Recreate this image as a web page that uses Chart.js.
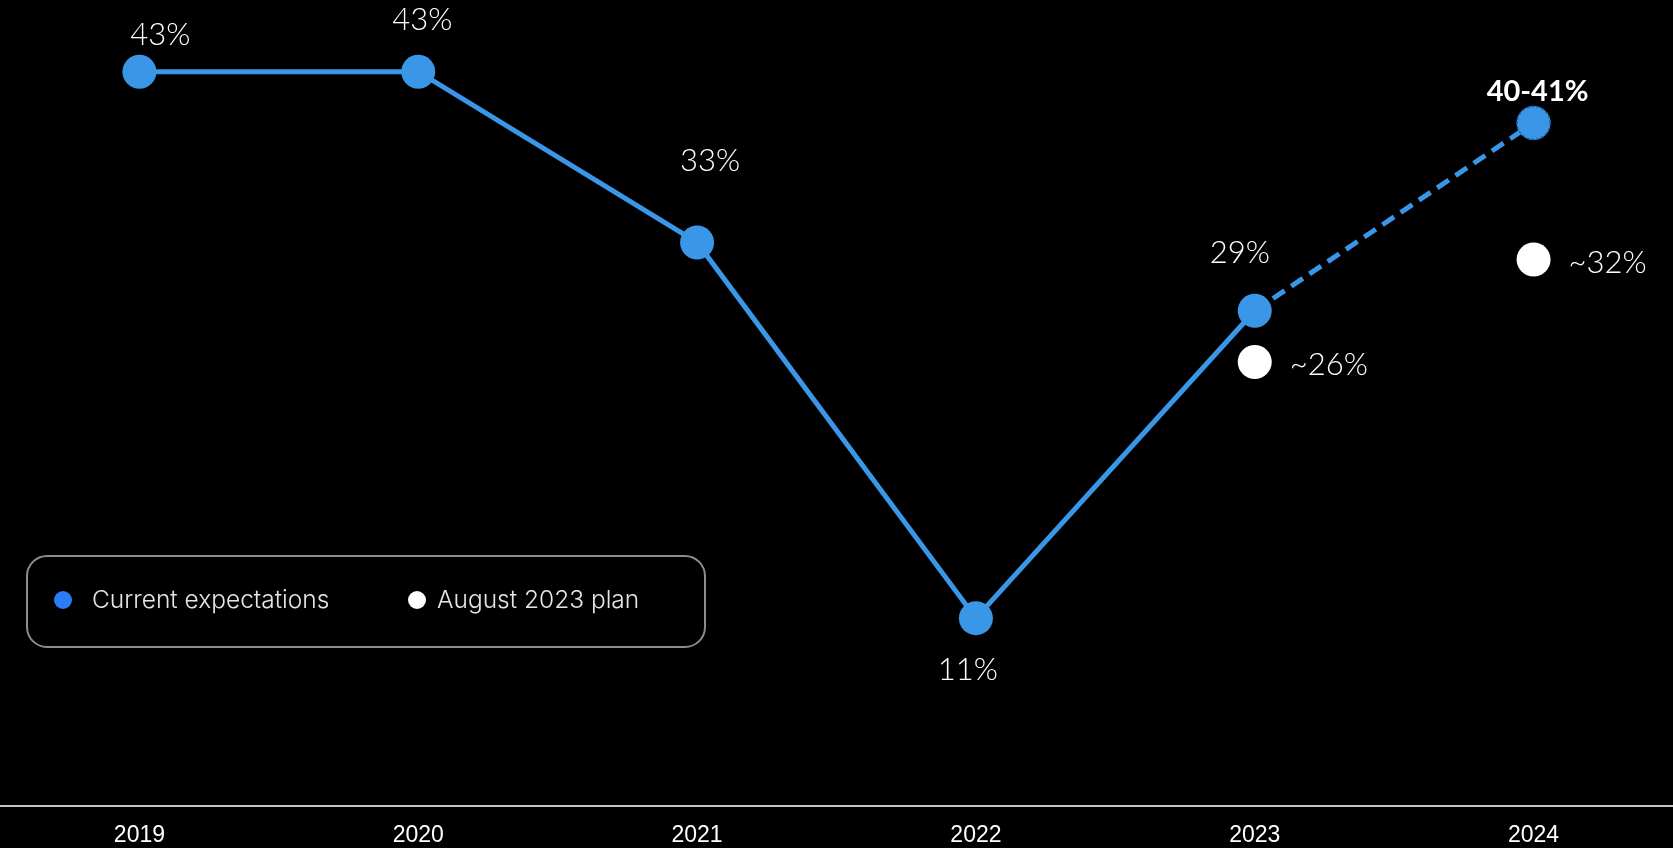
<!DOCTYPE html>
<html lang="en">
<head>
<meta charset="utf-8">
<title>Gross margin</title>
<script src="https://cdn.jsdelivr.net/npm/chart.js@4.4.1/dist/chart.umd.min.js"></script>
<style>
    html, body { margin: 0; padding: 0; background: #000; }
    #wrap { position: relative; width: 1673px; height: 848px; }
</style>
</head>
<body>
<div id="wrap"><canvas id="margemChart"></canvas></div>
<script>
// ==================== DADOS ====================

const anos = ['2019', '2020', '2021', '2022', '2023', '2024'];

// realized + current expectation (solid part)
const atual = [43, 43, 33, 11, 29, null];
// forecast range for 2024
const previsaoMin = 40;
const previsaoMax = 41;
// August 2023 plan
const plano = [null, null, null, null, 26, 32];

// label offsets relative to each point (px)
const rotuloDx = [21, 4, 13, -8, -15, 4];
const rotuloDy = [-27, -42, -71, 62, -48, -22];

const AZUL = '#3a97e8';
const AZUL_LEGENDA = '#2a7bf6';
const FONTE = 'Lato, "Open Sans", sans-serif';
const FONTE_LEGENDA = 'Inter, "Noto Sans", sans-serif';

// dashed segment 2023 -> 2024
const previsao = anos.map((a, i) => {
    if (i === 4) return atual[4];
    if (i === 5) return previsaoMin;
    return null;
});

// ==================== PLUGIN DE DESENHO ====================

const desenhoExtra = {
    id: 'desenhoExtra',
    afterDatasetsDraw(chart) {
        const ctx = chart.ctx;
        const area = chart.chartArea;
        const xs = chart.scales.x;

        // eixo inferior
        ctx.save();
        ctx.strokeStyle = '#c4c4c4';
        ctx.lineWidth = 2;
        ctx.beginPath();
        ctx.moveTo(0, area.bottom);
        ctx.lineTo(chart.width, area.bottom);
        ctx.stroke();

        // anos
        ctx.fillStyle = '#ffffff';
        ctx.font = '23px "Liberation Sans", Arial, sans-serif';
        ctx.textAlign = 'center';
        ctx.textBaseline = 'middle';
        anos.forEach((ano, i) => {
            ctx.fillText(ano, xs.getPixelForValue(i), area.bottom + 30);
        });

        // borda tracejada do ponto 2024
        const pt2024 = chart.getDatasetMeta(1).data[5];
        ctx.strokeStyle = '#1f5f99';
        ctx.lineWidth = 1.5;
        ctx.setLineDash([3, 2]);
        ctx.beginPath();
        ctx.arc(pt2024.x, pt2024.y, 16.5, 0, Math.PI * 2);
        ctx.stroke();
        ctx.setLineDash([]);

        // rotulos da linha azul
        ctx.textBaseline = 'alphabetic';
        const pontosAtual = chart.getDatasetMeta(0).data;
        atual.forEach((v, i) => {
            if (v === null) return;
            const p = pontosAtual[i];
            ctx.font = '300 31px ' + FONTE;
            ctx.fillText(v + '%', p.x + rotuloDx[i], p.y + rotuloDy[i]);
        });
        ctx.font = '700 29px ' + FONTE;
        ctx.fillText(previsaoMin + '-' + previsaoMax + '%', pt2024.x + rotuloDx[5], pt2024.y + rotuloDy[5]);

        // rotulos do plano
        const pontosPlano = chart.getDatasetMeta(2).data;
        ctx.textAlign = 'left';
        ctx.font = '300 31px ' + FONTE;
        plano.forEach((v, i) => {
            if (v === null) return;
            const p = pontosPlano[i];
            ctx.fillText('~' + v + '%', p.x + 35, p.y + 13);
        });
        ctx.restore();
    },
    afterDraw(chart) {
        // legenda dentro de uma caixa arredondada
        const ctx = chart.ctx;
        ctx.save();
        ctx.strokeStyle = '#8c8c8c';
        ctx.lineWidth = 2;
        ctx.beginPath();
        ctx.roundRect(27, 556, 678, 91, 20);
        ctx.stroke();

        const itens = [
            { texto: chart.data.datasets[0].label, cor: AZUL_LEGENDA, x: 63, gap: 29 },
            { texto: chart.data.datasets[2].label, cor: '#ffffff', x: 417, gap: 20 }
        ];
        ctx.font = '300 24.5px ' + FONTE_LEGENDA;
        ctx.textBaseline = 'middle';
        itens.forEach(item => {
            ctx.fillStyle = item.cor;
            ctx.beginPath();
            ctx.arc(item.x, 600, 9, 0, Math.PI * 2);
            ctx.fill();
            ctx.fillStyle = '#e6e6e6';
            ctx.fillText(item.texto, item.x + item.gap, 601);
        });
        ctx.restore();
    }
};

// ==================== GRAFICO ====================

new Chart(document.getElementById('margemChart'), {
    type: 'line',
    data: {
        labels: anos,
        datasets: [
            {
                label: 'Current expectations',
                data: atual,
                borderColor: AZUL,
                backgroundColor: AZUL,
                borderWidth: 5,
                pointRadius: 17,
                pointBorderWidth: 0,
                pointBackgroundColor: AZUL,
                tension: 0,
                clip: false
            },
            {
                label: 'forecast',
                data: previsao,
                borderColor: AZUL,
                borderWidth: 5,
                borderDash: [14, 8],
                pointRadius: [0, 0, 0, 0, 0, 17],
                pointBorderWidth: 0,
                pointBackgroundColor: AZUL,
                tension: 0,
                clip: false
            },
            {
                label: 'August 2023 plan',
                data: plano,
                showLine: false,
                pointRadius: 17,
                pointBorderWidth: 0,
                pointBackgroundColor: '#ffffff',
                clip: false
            }
        ]
    },
    options: {
        responsive: true,
        maintainAspectRatio: false,
        animation: false,
        layout: { autoPadding: false, padding: { left: 0, right: 0, top: 0, bottom: 42 } },
        plugins: {
            legend: { display: false },
            tooltip: { enabled: false }
        },
        scales: {
            x: { display: false, offset: true },
            y: { display: false, min: 0, max: 47.2 }
        }
    },
    plugins: [desenhoExtra]
});
</script>
</body>
</html>
